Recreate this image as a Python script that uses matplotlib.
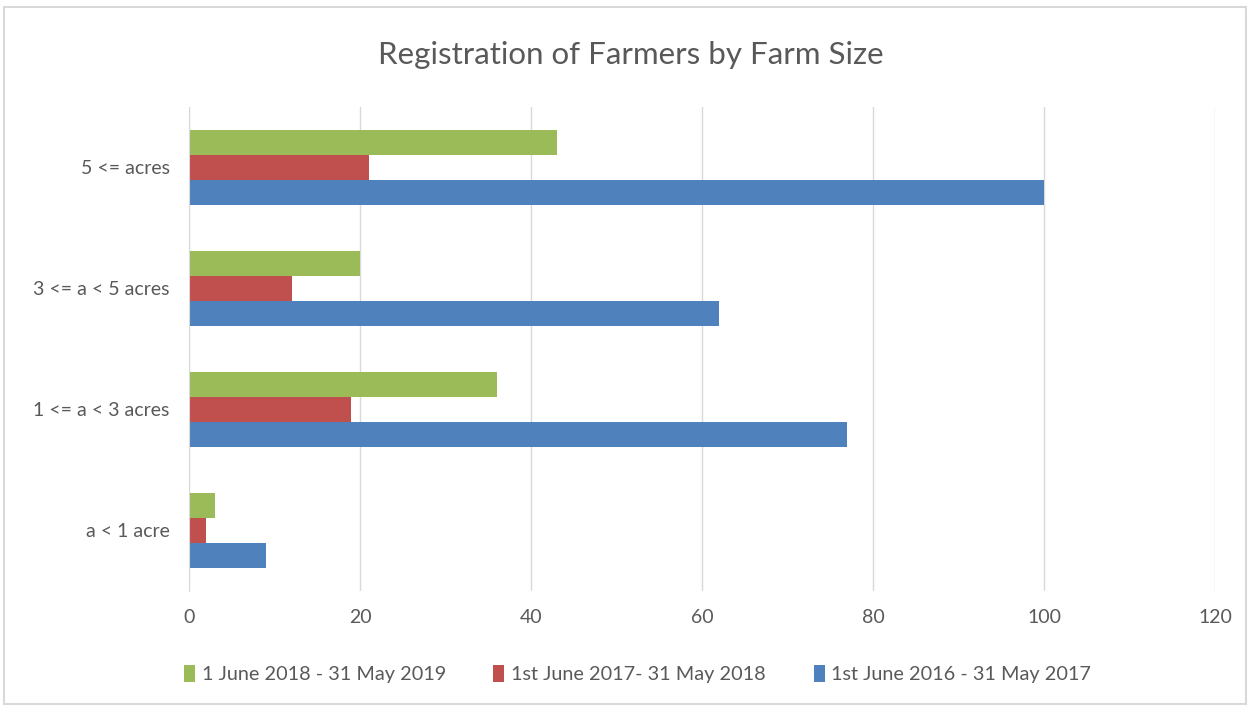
import numpy as np
import matplotlib.pyplot as plt
from matplotlib.patches import Rectangle

plt.rcParams['font.family'] = ['Lato', 'DejaVu Sans']

categories = ['a < 1 acre', '1 <= a < 3 acres', '3 <= a < 5 acres', '5 <= acres']
series_names = ['1st June 2016 - 31 May 2017', '1st June 2017- 31 May 2018', '1 June 2018 - 31 May 2019']
vals_2016 = [9, 77, 62, 100]
vals_2017 = [2, 19, 12, 21]
vals_2018 = [3, 36, 20, 43]
colors = ['#4f81bd', '#c0504d', '#9bbb59']
xticks = [0, 20, 40, 60, 80, 100, 120]

text_col = '#595959'
grid_col = '#d9d9d9'

fig = plt.figure(figsize=(12.5, 7.06), dpi=100)
ax = fig.add_axes([0.1512, 0.1629, 0.8208, 0.6856])

y = np.arange(len(categories))
h = 0.207
bars = []
for k, (vals, col) in enumerate(zip([vals_2016, vals_2017, vals_2018], colors)):
    b = ax.barh(y + (k - 1) * h, vals, height=h, color=col, zorder=3)
    bars.append(b)

ax.set_xlim(0, 120)
ax.set_ylim(-0.5, len(categories) - 0.5)
ax.set_xticks(xticks)
ax.set_yticks(y)
ax.set_yticklabels(categories)
ax.tick_params(length=0, colors=text_col, labelsize=14)
ax.tick_params(axis='y', pad=14)
ax.tick_params(axis='x', pad=13)
ax.grid(axis='x', color=grid_col, linewidth=1, zorder=0)
for s in ['top', 'right', 'bottom']:
    ax.spines[s].set_visible(False)
ax.spines['left'].set_color(grid_col)
ax.spines['left'].set_zorder(4)

fig.text(0.505, 0.922, 'Registration of Farmers by Farm Size', ha='center', va='center',
         fontsize=22.5, color=text_col)

# legend order: green, red, blue
fig.legend([bars[2], bars[1], bars[0]], [series_names[2], series_names[1], series_names[0]],
           loc='center', bbox_to_anchor=(0.51, 0.045), ncol=3, frameon=False,
           fontsize=14.3, labelcolor=text_col, handlelength=0.55, handleheight=0.9,
           handletextpad=0.35, columnspacing=2.4)

fig.patches.append(Rectangle((0.003, 0.003), 0.994, 0.987, transform=fig.transFigure,
                             fill=False, edgecolor='#d9d9d9', linewidth=1.5))

fig.savefig('out.png', dpi=100)
